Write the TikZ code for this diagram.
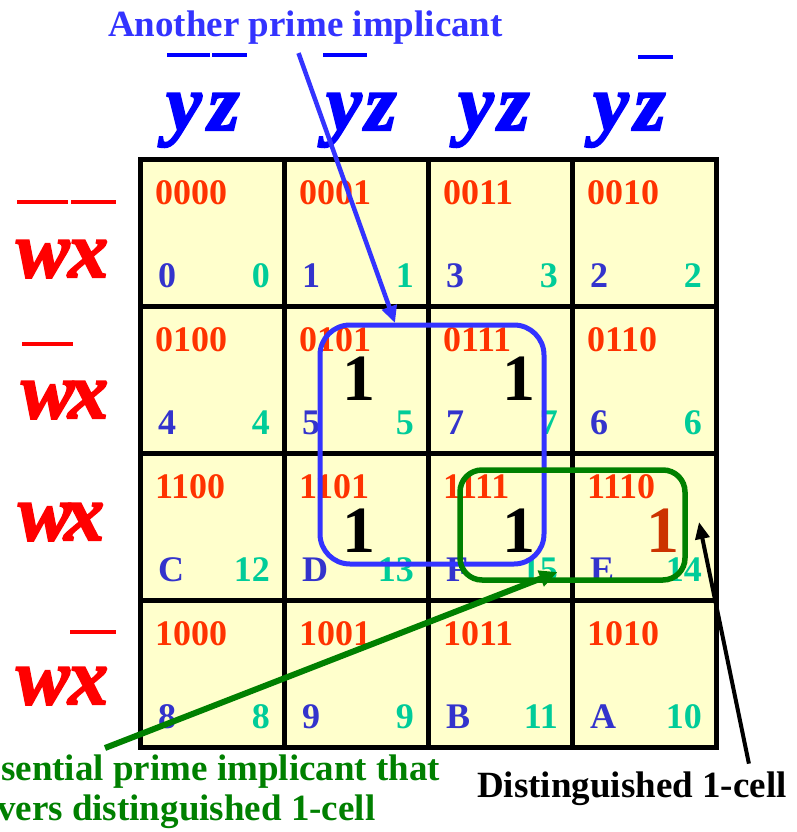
\documentclass[tikz,border=0pt]{standalone}
\usepackage{fontspec}
\setmainfont{Liberation Serif}
\newfontfamily\kmvarfont{Liberation Serif}[UprightFont={* Italic},FakeBold=2.5]
\usepackage{tikz}
\usetikzlibrary{arrows.meta,calc}
\definecolor{kmyellow}{HTML}{FFFFCC}
\definecolor{kmcodered}{HTML}{FF3300}
\definecolor{kmrowred}{HTML}{FF0000}
\definecolor{kmcolblue}{HTML}{0000FF}
\definecolor{kmpiblue}{HTML}{3333FF}
\definecolor{kmidxblue}{HTML}{3333CC}
\definecolor{kmteal}{HTML}{00CC99}
\definecolor{kmgreen}{HTML}{008000}
\definecolor{kmrust}{HTML}{CC3300}
\tikzset{
kmcell/.style={rectangle,draw=black,fill=kmyellow,line width=5pt,minimum width=144pt,minimum height=147pt,inner sep=0pt,outer sep=0pt},
kmcode/.style={text=kmcodered,font=\fontsize{36}{36}\selectfont\bfseries,inner sep=0pt,anchor=base west},
kmidx/.style={text=kmidxblue,font=\fontsize{36}{36}\selectfont\bfseries,inner sep=0pt,anchor=base west},
kmdec/.style={text=kmteal,font=\fontsize{36}{36}\selectfont\bfseries,inner sep=0pt,anchor=base east},
kmone/.style={font=\fontsize{66}{66}\selectfont\bfseries,inner sep=0pt,anchor=base},
kmcolvar/.style={text=kmcolblue,font=\kmvarfont\fontsize{80}{80}\selectfont\bfseries,inner sep=0pt,anchor=base west},
kmrowvar/.style={text=kmrowred,font=\kmvarfont\fontsize{80}{80}\selectfont\bfseries,inner sep=0pt,anchor=base west},
kmbarblue/.style={draw=kmcolblue,line width=4pt},
kmbarred/.style={draw=kmrowred,line width=4pt},
kmpibox/.style={rectangle,rounded corners=30pt,draw=kmpiblue,line width=5pt,minimum width=224pt,minimum height=239pt,outer sep=0pt},
kmepibox/.style={rectangle,rounded corners=22pt,draw=kmgreen,line width=5.5pt,minimum width=225pt,minimum height=110pt,outer sep=0pt},
kmlabel/.style={font=\fontsize{37}{40}\selectfont\bfseries,inner sep=0pt},
kmpiarr/.style={-{Triangle[length=17pt,width=15pt]},draw=kmpiblue,line width=4.5pt},
kmepiarr/.style={-{Triangle[length=18pt,width=16pt]},draw=kmgreen,line width=6pt},
kmdistarr/.style={-{Triangle[length=17pt,width=14pt]},draw=black,line width=4pt}
}
\begin{document}
\begin{tikzpicture}[x=1pt,y=-1pt]
\useasboundingbox (0,0) rectangle (797,832);
% map cells: row/col/code/index/decimal
\foreach \row/\col/\code/\idx/\dec in {1/1/0000/0/0,1/2/0001/1/1,1/3/0011/3/3,1/4/0010/2/2,
  2/1/0100/4/4,2/2/0101/5/5,2/3/0111/7/7,2/4/0110/6/6,
  3/1/1100/C/12,3/2/1101/D/13,3/3/1111/F/15,3/4/1110/E/14,
  4/1/1000/8/8,4/2/1001/9/9,4/3/1011/B/11,4/4/1010/A/10}{
  \node[kmcell] (cell\row\col) at ({140+144*(\col-0.5)},{159+147*(\row-0.5)}) {};
  \node[kmcode] (code\row\col) at ($(cell\row\col.north west)+(15,45)$) {\code};
  \node[kmidx] (idx\row\col) at ($(cell\row\col.south west)+(18,-19)$) {\idx};
  \node[kmdec] (dec\row\col) at ($(cell\row\col.south east)+(-14,-19)$) {\dec};
}
% column variables
\node[kmcolvar] (y1) at (166,130) {y};
\node[kmcolvar] (z1) at (208,130) {z};
\node[kmcolvar] (y2) at (326,130) {y};
\node[kmcolvar] (z2) at (365,130) {z};
\node[kmcolvar] (y3) at (458,130) {y};
\node[kmcolvar] (z3) at (498,130) {z};
\node[kmcolvar] (y4) at (593,130) {y};
\node[kmcolvar] (z4) at (634,130) {z};
\draw[kmbarblue] (167,55) -- (210,55);
\draw[kmbarblue] (212,55) -- (247,55);
\draw[kmbarblue] (323,55) -- (367,55);
\draw[kmbarblue] (638,57) -- (673,57);
% row variables
\node[kmrowvar] (w1) at (16,277) {w};
\node[kmrowvar] (x1) at (68,277) {x};
\node[kmrowvar] (w2) at (21,418) {w};
\node[kmrowvar] (x2) at (68,418) {x};
\node[kmrowvar] (w3) at (18,540) {w};
\node[kmrowvar] (x3) at (64,540) {x};
\node[kmrowvar] (w4) at (16,704) {w};
\node[kmrowvar] (x4) at (68,704) {x};
\draw[kmbarred] (17,202) -- (68,202);
\draw[kmbarred] (71,202) -- (116,202);
\draw[kmbarred] (22,344) -- (73,344);
\draw[kmbarred] (70,632) -- (116,632);
% ones
\node[kmone] (one22) at (359,400) {1};
\node[kmone] (one23) at (519,400) {1};
\node[kmone] (one32) at (359,552) {1};
\node[kmone] (one33) at (519,552) {1};
\node[kmone,text=kmrust] (one34) at (663,552) {1};
% implicants
\node[kmpibox] (pibox) at (432,444.5) {};
\node[kmepibox] (epibox) at (572.5,525) {};
% callouts
\node[kmlabel,text=kmpiblue,anchor=base west] (anotherlbl) at (108,37) {Another prime implicant};
\node[kmlabel,text=kmgreen,anchor=north west,align=left] (esslbl) at (-38,755) {Essential prime implicant that\\covers distinguished 1-cell};
\node[kmlabel,anchor=base west] (distlbl) at (477,797) {Distinguished 1-cell};
\draw[kmpiarr] ([xshift=-7pt,yshift=-8pt]anotherlbl.south) -- ([xshift=-37pt,yshift=2pt]pibox.north);
\draw[kmepiarr] ([xshift=143pt,yshift=7pt]esslbl.north west) -- ([xshift=-15pt,yshift=8pt]epibox.south);
\draw[kmdistarr] ([xshift=117pt,yshift=7.5pt]distlbl.north) -- ([xshift=55pt,yshift=4.5pt]cell34.center);
\end{tikzpicture}
\end{document}
